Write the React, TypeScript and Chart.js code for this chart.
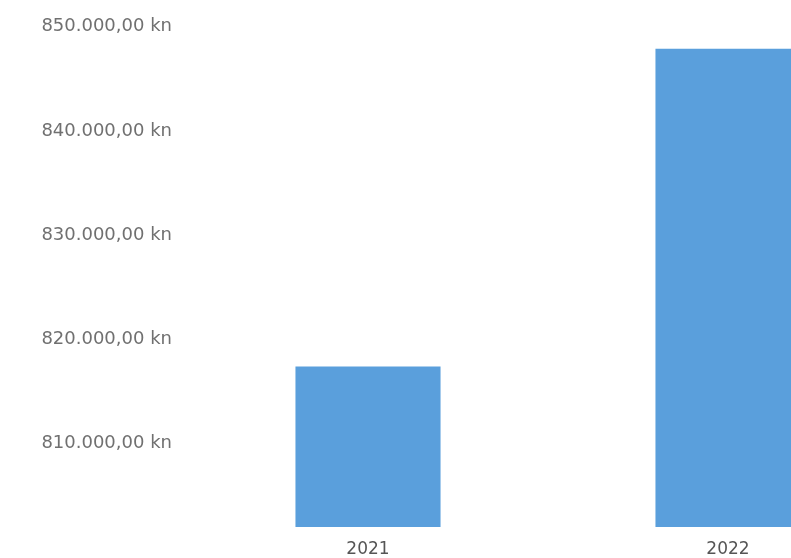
import React, { useEffect, useRef } from "react";
import { Chart, registerables } from "chart.js";

Chart.register(...registerables);

const years = ["2021", "2022"];
const amounts = [817400, 847900];
const yMin = 802000;
const yMax = 850000;
const yTickValues = [810000, 820000, 830000, 840000, 850000];

const fmt = (v: number) => {
  const s = Math.round(v).toString().replace(/\B(?=(\d{3})+(?!\d))/g, ".");
  return s + ",00 kn";
};

export default function App() {
  const ref = useRef<HTMLCanvasElement | null>(null);
  useEffect(() => {
    if (!ref.current) return;
    const family = "'DejaVu Sans', Verdana, sans-serif";
    const chart = new Chart(ref.current, {
      type: "bar",
      data: {
        labels: years,
        datasets: [
          {
            data: amounts,
            backgroundColor: "#5A9FDC",
            borderWidth: 0,
            barPercentage: 0.403,
            categoryPercentage: 1,
          },
        ],
      },
      options: {
        animation: false,
        responsive: false,
        layout: { padding: { top: 25, left: 0, right: 0, bottom: 0 } },
        plugins: { legend: { display: false }, tooltip: { enabled: false } },
        scales: {
          x: {
            grid: { display: false, drawTicks: false },
            border: { display: false },
            ticks: { color: "#555", font: { family, size: 17 }, padding: 12 },
            afterFit: (s: any) => {
              s.height = 31;
            },
          },
          y: {
            min: yMin,
            max: yMax,
            grid: { display: false, drawTicks: false },
            border: { display: false },
            afterBuildTicks: (s: any) => {
              s.ticks = yTickValues.map((value) => ({ value }));
            },
            ticks: {
              color: "#707070",
              font: { family, size: 18 },
              padding: 16,
              callback: (v: any) => fmt(Number(v)),
            },
            afterFit: (s: any) => {
              s.width = 188;
            },
          },
        },
      },
    });
    return () => chart.destroy();
  }, []);
  return (
    <div
      style={{
        position: "fixed",
        left: 0,
        top: 0,
        width: 791,
        height: 558,
        overflow: "hidden",
        background: "#fff",
      }}
    >
      <canvas ref={ref} width={908} height={558} style={{ display: "block" }} />
    </div>
  );
}
